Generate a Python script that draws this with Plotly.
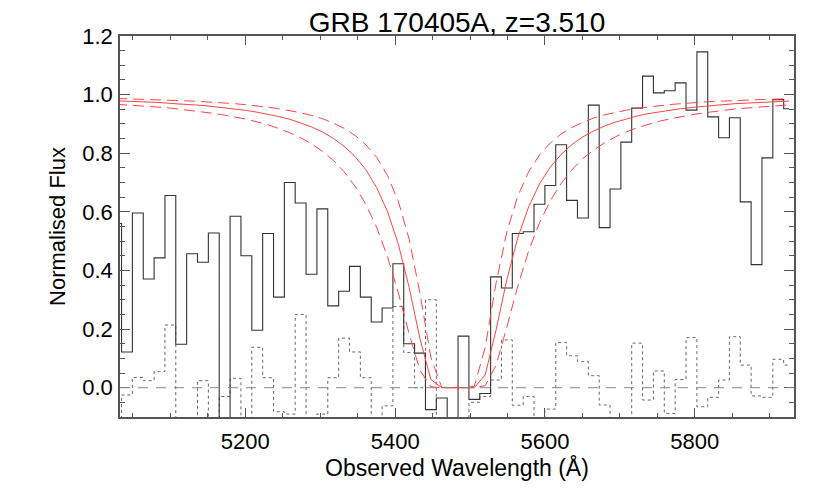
import plotly.graph_objects as go

# bin centres of the spectrum (observed wavelength, Angstrom)
wave = [5027.5, 5042.0, 5056.5, 5071.0, 5085.5, 5099.9, 5114.4, 5128.9, 5143.4, 5157.9,
        5172.4, 5186.9, 5201.4, 5215.9, 5230.4, 5244.9, 5259.3, 5273.8, 5288.3, 5302.8,
        5317.3, 5331.8, 5346.3, 5360.8, 5375.3, 5389.8, 5404.2, 5418.7, 5433.2, 5447.7,
        5462.2, 5476.7, 5491.2, 5505.7, 5520.2, 5534.7, 5549.1, 5563.6, 5578.1, 5592.6,
        5607.1, 5621.6, 5636.1, 5650.6, 5665.1, 5679.6, 5694.1, 5708.5, 5723.0, 5737.5,
        5752.0, 5766.5, 5781.0, 5795.5, 5810.0, 5824.5, 5839.0, 5853.4, 5867.9, 5882.4,
        5896.9, 5911.4, 5925.9]

# normalised flux
flux = [0.56, 0.122, 0.596, 0.371, 0.443, 0.656, 0.148, 0.457, 0.428, 0.528,
        -0.25, 0.585, 0.45, 0.196, 0.526, 0.309, 0.70, 0.63, 0.387, 0.61,
        0.279, 0.329, 0.414, 0.309, 0.224, 0.272, 0.423, 0.150, 0.118, -0.075,
        -0.035, -0.25, 0.176, -0.04, -0.02, 0.378, 0.34, 0.526, 0.532, 0.626,
        0.69, 0.829, 0.639, 0.579, 0.964, 0.546, 0.678, 0.838, 0.954, 1.063,
        1.006, 1.013, 1.04, 0.947, 1.146, 0.924, 0.853, 0.921, 0.634, 0.42,
        0.784, 0.983, 0.952]

# error spectrum
error = [-0.15, -0.025, 0.035, 0.024, 0.055, 0.214, -0.15, -0.15, 0.024, -0.15,
         -0.03, 0.032, -0.15, 0.138, 0.034, -0.082, -0.09, 0.25, -0.15, -0.09,
         0.034, 0.169, 0.122, 0.034, -0.15, -0.062, 0.277, 0.12, 0.0, 0.30,
         -0.15, -0.15, -0.15, -0.05, -0.03, 0.026, 0.163, -0.06, -0.03, -0.15,
         -0.073, 0.154, 0.109, 0.089, 0.041, -0.059, -0.15, -0.15, 0.152, -0.042,
         0.057, -0.088, 0.028, 0.171, -0.065, -0.033, 0.026, 0.174, 0.077, -0.028,
         -0.033, 0.097, 0.077]

# DLA model (best fit) and +/- uncertainty models
model = [0.979, 0.978, 0.976, 0.974, 0.973, 0.970, 0.968, 0.966, 0.963, 0.959,
         0.955, 0.951, 0.946, 0.940, 0.933, 0.925, 0.916, 0.904, 0.890, 0.873,
         0.851, 0.824, 0.789, 0.744, 0.683, 0.601, 0.490, 0.342, 0.166, 0.028,
         0.0, 0.0, 0.0, 0.0, 0.044, 0.197, 0.369, 0.511, 0.617, 0.695,
         0.753, 0.796, 0.830, 0.856, 0.876, 0.893, 0.906, 0.917, 0.927, 0.935,
         0.941, 0.947, 0.952, 0.956, 0.960, 0.963, 0.966, 0.969, 0.971, 0.973,
         0.975, 0.976, 0.978]
model_hi = [0.987, 0.986, 0.985, 0.984, 0.983, 0.981, 0.980, 0.978, 0.976, 0.974,
            0.972, 0.969, 0.965, 0.962, 0.957, 0.952, 0.946, 0.938, 0.929, 0.918,
            0.903, 0.885, 0.861, 0.829, 0.786, 0.724, 0.636, 0.507, 0.321, 0.103,
            0.001, 0.0, 0.0, 0.005, 0.138, 0.357, 0.532, 0.653, 0.736, 0.794,
            0.835, 0.866, 0.888, 0.906, 0.920, 0.931, 0.940, 0.947, 0.953, 0.958,
            0.962, 0.966, 0.969, 0.972, 0.974, 0.977, 0.978, 0.980, 0.981, 0.983,
            0.984, 0.985, 0.986]
model_lo = [0.967, 0.965, 0.963, 0.960, 0.957, 0.954, 0.950, 0.946, 0.941, 0.936,
            0.930, 0.924, 0.916, 0.907, 0.897, 0.884, 0.870, 0.853, 0.832, 0.807,
            0.776, 0.737, 0.688, 0.626, 0.547, 0.447, 0.324, 0.183, 0.059, 0.003,
            0.0, 0.0, 0.0, 0.0, 0.007, 0.077, 0.207, 0.346, 0.466, 0.562,
            0.638, 0.697, 0.744, 0.782, 0.811, 0.836, 0.856, 0.873, 0.887, 0.898,
            0.909, 0.917, 0.925, 0.931, 0.937, 0.942, 0.947, 0.951, 0.954, 0.957,
            0.960, 0.963, 0.965]

font = "Liberation Sans, Arial, sans-serif"

fig = go.Figure()
fig.add_trace(go.Scatter(x=wave, y=error, mode="lines", line_shape="hvh",
                         line=dict(color="#666666", width=1, dash="dot")))
fig.add_trace(go.Scatter(x=wave, y=flux, mode="lines", line_shape="hvh",
                         line=dict(color="#333333", width=1.1)))
fig.add_hline(y=0, line=dict(color="#888888", width=1, dash="10px,8px"))
for m in (model_hi, model_lo):
    fig.add_trace(go.Scatter(x=wave, y=m, mode="lines",
                             line=dict(color="#ff4444", width=1, dash="11px,6px")))
fig.add_trace(go.Scatter(x=wave, y=model, mode="lines",
                         line=dict(color="#ff4444", width=1)))

axis_common = dict(showline=True, linecolor="#555555", linewidth=1.5, mirror="allticks",
                   ticks="inside", tickcolor="#555555", showgrid=False, zeroline=False,
                   automargin=False, tickfont=dict(family=font, size=22, color="black"))

fig.update_xaxes(range=[5032.7, 5932.4], tick0=5200, dtick=200, ticklen=9,
                 minor=dict(dtick=50, ticks="inside", ticklen=4, tickcolor="#555555"),
                 ticklabelstandoff=4,
                 title=dict(text="Observed Wavelength (Å)", font=dict(family=font, size=23, color="black"),
                            standoff=4),
                 **axis_common)
fig.update_yaxes(range=[-0.1, 1.2], tick0=0, dtick=0.2, tickformat=".1f", ticklen=10,
                 minor=dict(dtick=0.05, ticks="inside", ticklen=5, tickcolor="#555555"),
                 ticklabelstandoff=1,
                 title=dict(text="Normalised Flux", font=dict(family=font, size=22, color="black"),
                            standoff=11),
                 **axis_common)

# the page adds an 8px body margin, so the margins are set 8px smaller on left/top
fig.update_layout(
    width=830, height=493,
    margin=dict(l=112, r=44, t=28, b=84),
    paper_bgcolor="white", plot_bgcolor="white",
    showlegend=False,
    title=dict(text="GRB 170405A, z=3.510", xref="paper", x=0.5, xanchor="center",
               yref="container", y=0.972, yanchor="middle",
               font=dict(family=font, size=28, color="black")),
)

fig.write_html("out.html")
